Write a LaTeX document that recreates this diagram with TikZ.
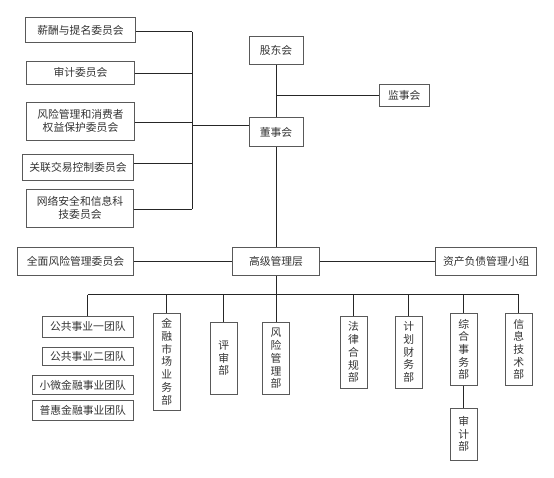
\documentclass[tikz,border=0pt]{standalone}
\usepackage{fontspec}
\newfontfamily\cjk{Noto Sans CJK SC}
\begin{document}
\begin{tikzpicture}[x=1pt,y=-1pt,
  box/.style={draw=black!65, line width=0.8pt, inner sep=0pt, align=center,
    text=black!80, font=\cjk\fontsize{10.8}{13}\selectfont},
  vbox/.style={box, font=\cjk\fontsize{10.8}{12.7}\selectfont},
  conn/.style={draw=black!85, line width=0.9pt}]
\useasboundingbox (0,0) rectangle (554,478);
% board level
\node[box, minimum width=109.6pt, minimum height=25.4pt] (xc) at (80.5,30) {薪酬与提名委员会};
\node[box, minimum width=107.6pt, minimum height=23pt] (sj) at (80.5,72.5) {审计委员会};
\node[box, minimum width=107.6pt, minimum height=38.7pt] (fx) at (80.5,121.3) {风险管理和消费者\\权益保护委员会};
\node[box, minimum width=110.6pt, minimum height=26pt] (gl) at (78,167) {关联交易控制委员会};
\node[box, minimum width=106.6pt, minimum height=38.7pt] (wl) at (80,208.3) {网络安全和信息科\\技委员会};
\node[box, minimum width=54pt, minimum height=28.3pt] (gdh) at (276,50.2) {股东会};
\node[box, minimum width=50.3pt, minimum height=22pt] (jsh) at (404.2,95.3) {监事会};
\node[box, minimum width=54pt, minimum height=29pt] (dsh) at (276,132.2) {董事会};
% management level
\node[box, minimum width=115.6pt, minimum height=28pt] (qm) at (75.5,261.3) {全面风险管理委员会};
\node[box, minimum width=86.6pt, minimum height=28pt] (gj) at (276,261.3) {高级管理层};
\node[box, minimum width=101pt, minimum height=28pt] (zc) at (486.2,261.3) {资产负债管理小组};
% teams
\node[box, minimum width=91pt, minimum height=20.7pt] (t1) at (87.8,326.7) {公共事业一团队};
\node[box, minimum width=91pt, minimum height=18.3pt] (t2) at (87.8,356.2) {公共事业二团队};
\node[box, minimum width=101pt, minimum height=19.4pt] (t3) at (82.8,385) {小微金融事业团队};
\node[box, minimum width=101pt, minimum height=20pt] (t4) at (82.8,410.3) {普惠金融事业团队};
% departments
\node[vbox, minimum width=27pt, minimum height=97pt] (jr) at (166.8,361.8) {金\\融\\市\\场\\业\\务\\部};
\node[vbox, minimum width=27pt, minimum height=72pt] (ps) at (223.8,358.3) {评\\审\\部};
\node[vbox, minimum width=26.6pt, minimum height=72.4pt] (fxb) at (276,358.5) {风\\险\\管\\理\\部};
\node[vbox, minimum width=27pt, minimum height=71.7pt] (fl) at (353.5,352.2) {法\\律\\合\\规\\部};
\node[vbox, minimum width=26.7pt, minimum height=71.7pt] (jh) at (408.7,352.2) {计\\划\\财\\务\\部};
\node[vbox, minimum width=27pt, minimum height=72pt] (zh) at (463.8,349.3) {综\\合\\事\\务\\部};
\node[vbox, minimum width=27pt, minimum height=72pt] (xx) at (518.8,349.3) {信\\息\\技\\术\\部};
\node[vbox, minimum width=27pt, minimum height=52pt] (sjb) at (463.8,434) {审\\计\\部};
% connector anchors
\coordinate (lb) at (192,0);
\coordinate (bus) at (0,294.7);
% committees to board
\draw[conn] ([yshift=-1.7pt]xc.east) -- ([yshift=-1.7pt]xc.east -| lb);
\draw[conn] ([yshift=-0.5pt]sj.east) -- ([yshift=-0.5pt]sj.east -| lb);
\draw[conn] ([yshift=-0.7pt]fx.east) -- ([yshift=-0.7pt]fx.east -| lb);
\draw[conn] ([yshift=3.3pt]gl.east) -- ([yshift=3.3pt]gl.east -| lb);
\draw[conn] ([yshift=-1pt]wl.east) -- ([yshift=-1pt]wl.east -| lb);
\draw[conn] ([yshift=-1.7pt]xc.east -| lb) -- ([yshift=-1pt]wl.east -| lb);
\draw[conn] ([yshift=6.5pt]dsh.west) -- ([yshift=6.5pt]dsh.west -| lb);
% shareholders, supervisors, board
\draw[conn] (gdh.south) -- (dsh.north);
\draw[conn] (jsh.west) -- (jsh.west -| gdh.south);
\draw[conn] (dsh.south) -- (gj.north);
\draw[conn] (qm.east) -- (gj.west);
\draw[conn] (gj.east) -- (zc.west);
% management bus
\draw[conn] (gj.south) -- (fxb.north);
\draw[conn] (t1.north |- bus) -- (xx.north |- bus);
\foreach \d in {t1,jr,ps,fl,jh,zh,xx}
  \draw[conn] (\d.north |- bus) -- (\d.north);
\draw[conn] (zh.south) -- (sjb.north);
\end{tikzpicture}
\end{document}
